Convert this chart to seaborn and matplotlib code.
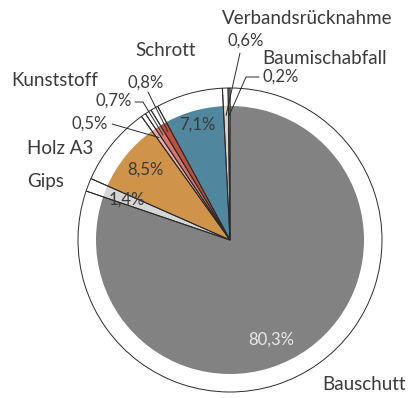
import numpy as np
import matplotlib
matplotlib.use("Agg")
import matplotlib.pyplot as plt
import seaborn as sns

# Waste fractions, counter-clockwise from 12 o'clock
categories = ["Baumischabfall", "Verbandsrücknahme", "Schrott", "Kunststoff A",
              "Kunststoff B", "Kunststoff C", "Holz A3", "Gips", "Bauschutt"]
shares = [0.2, 0.6, 7.1, 0.8, 0.7, 0.5, 8.5, 1.4, 80.3]
colors = ["#d8ccc0", "#ddd0c4", "#51869f", "#c0503e", "#d9786e", "#eab0ac",
          "#cf9449", "#d6d6d6", "#818281"]

sns.set_theme(style="white")
plt.rcParams["font.family"] = ["Lato", "DejaVu Sans"]

W, H = 411, 398
fig = plt.figure(figsize=(W / 100, H / 100), dpi=100)
ax = fig.add_axes([0, 0, 1, 1])

R = 134.0          # pie radius in px
CX, CY = 230, 240  # pie centre in px (from top-left)


def P(x, y):
    """pixel position (from top-left) -> data coordinates"""
    return (x - CX) / R, (CY - y) / R


ax.axis("off")

# coloured pie
ax.pie(shares, colors=colors, startangle=90, counterclock=True, radius=1.0,
       wedgeprops=dict(linewidth=0))
# outline ring with radial separators
ax.pie(shares, startangle=90, counterclock=True, radius=152 / R,
       wedgeprops=dict(fill=False, edgecolor="#2a2a2a", linewidth=0.7))
ax.set_xlim(-CX / R, (W - CX) / R)
ax.set_ylim(-(H - CY) / R, CY / R)
ax.set_aspect("auto")

total = sum(shares)
cum = np.cumsum([0] + shares[:-1])
mid = np.deg2rad(90 + 360 * (cum + np.array(shares) / 2) / total)


def pct(v):
    return f"{v:.1f}".replace(".", ",") + "%"


txt = "#3a3a3a"
lab = dict(fontsize=13.5, color=txt, fontweight="normal")
small = dict(fontsize=12, color=txt, fontweight="normal")

# category names
ax.text(*P(222, 18), "Verbandsrücknahme", ha="left", va="center", **lab)
ax.text(*P(135, 50), "Schrott", ha="left", va="center", **lab)
ax.text(*P(262, 59), "Baumischabfall", ha="left", va="center", **lab)
ax.text(*P(11, 80), "Kunststoff", ha="left", va="center", **lab)
ax.text(*P(27, 148), "Holz A3", ha="left", va="center", **lab)
ax.text(*P(27, 181), "Gips", ha="left", va="center", **lab)
ax.text(*P(322, 384), "Bauschutt", ha="left", va="center", **lab)

# value labels inside the pie
ax.text(*P(145, 170), pct(shares[6]), ha="center", va="center", **small)
ax.text(*P(197, 125), pct(shares[2]), ha="center", va="center", **small)
ax.text(*P(127, 200), pct(shares[7]), ha="center", va="center", **small)
ax.text(*P(271, 340), pct(shares[8]), ha="center", va="center",
        fontsize=12, color="#e8e8e8", fontweight="normal")

# value labels outside, with leader lines into their wedges
ax.text(*P(227, 41), pct(shares[1]), ha="left", va="center", **small)
ax.text(*P(262, 77), pct(shares[0]), ha="left", va="center", **small)
ax.text(*P(128, 83), pct(shares[3]), ha="left", va="center", **small)
ax.text(*P(96, 101), pct(shares[4]), ha="left", va="center", **small)
ax.text(*P(72, 124), pct(shares[5]), ha="left", va="center", **small)

lk = dict(color="#2a2a2a", linewidth=0.7)
r_end = 0.93


def tip(i):
    return r_end * np.cos(mid[i]), r_end * np.sin(mid[i])


def leader(i, *pts):
    xs = [P(*p)[0] for p in pts] + [tip(i)[0]]
    ys = [P(*p)[1] for p in pts] + [tip(i)[1]]
    ax.plot(xs, ys, **lk)


leader(1, (240, 53))
leader(0, (259, 77), (246, 77))
leader(3, (148, 92))
leader(4, (135, 102), (143, 102))
leader(5, (112, 124))

fig.savefig("out.png", dpi=100)
